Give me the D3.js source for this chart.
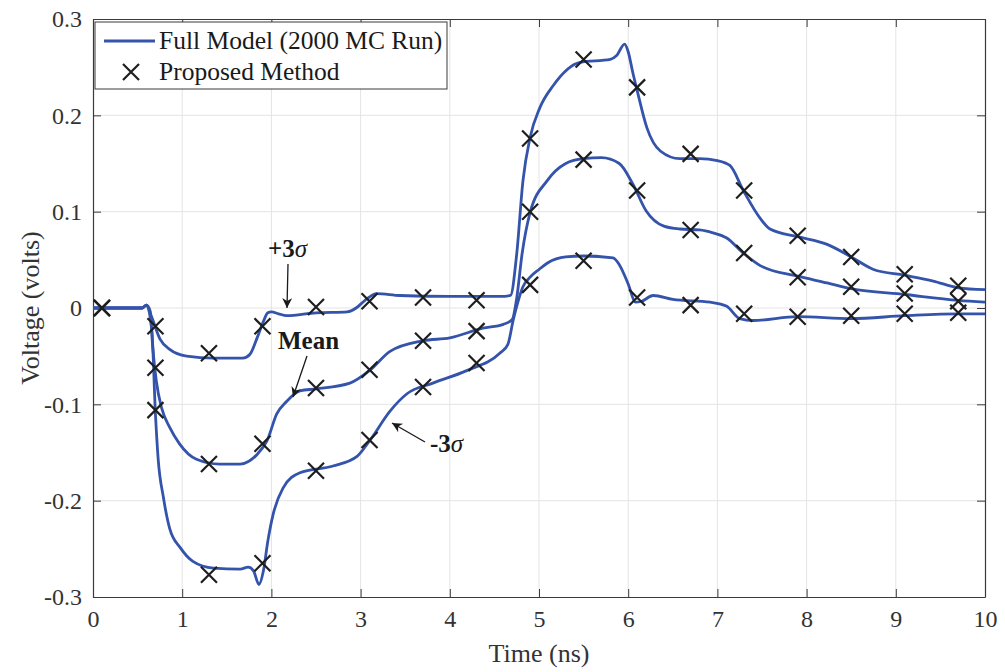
<!DOCTYPE html>
<html>
<head>
<meta charset="utf-8">
<script src="https://cdn.jsdelivr.net/npm/d3@7"></script>
<style>
  body { margin: 0; background: #fff; }
  text { font-family: "Liberation Serif", "Times New Roman", serif; }
</style>
</head>
<body>
<svg id="chart" width="1005" height="672"></svg>
<script>
// Monte Carlo comparison: voltage vs time

// curve samples (time in ns, voltage in volts)
const upperT = [0, 0.55, 0.6, 0.66, 0.75, 0.86, 1.05, 1.35, 1.68, 1.76, 1.84, 1.91, 1.96, 2.0, 2.08, 2.17, 2.5, 2.85, 2.95, 3.05, 3.18, 3.44, 4.0, 4.56, 4.68, 4.75, 4.82, 4.9, 5.01, 5.16, 5.46, 5.8, 5.87, 5.96, 6.0, 6.05, 6.1, 6.21, 6.36, 6.58, 6.8, 7.0, 7.14, 7.29, 7.48, 7.59, 7.9, 8.23, 8.5, 8.75, 9.1, 9.42, 9.7, 10];
const upperV = [0, 0, 0.003, -0.01, -0.032, -0.043, -0.05, -0.052, -0.052, -0.048, -0.031, -0.014, -0.005, -0.004, -0.006, -0.008, -0.005, -0.004, 0.0, 0.008, 0.015, 0.013, 0.012, 0.012, 0.013, 0.056, 0.132, 0.177, 0.208, 0.231, 0.255, 0.258, 0.262, 0.274, 0.266, 0.245, 0.226, 0.187, 0.163, 0.155, 0.155, 0.153, 0.148, 0.122, 0.093, 0.082, 0.074, 0.066, 0.053, 0.040, 0.034, 0.028, 0.021, 0.019];

const meanT = [0, 0.55, 0.6, 0.64, 0.67, 0.71, 0.77, 0.86, 0.97, 1.16, 1.42, 1.65, 1.84, 1.95, 2.06, 2.17, 2.32, 2.5, 2.88, 3.1, 3.33, 3.7, 4.0, 4.37, 4.6, 4.7, 4.75, 4.81, 4.9, 5.09, 5.3, 5.5, 5.7, 5.9, 6.05, 6.2, 6.4, 6.58, 6.8, 6.95, 7.1, 7.29, 7.48, 7.9, 8.23, 8.5, 9.1, 9.7, 10];
const meanV = [0, 0, 0.003, -0.003, -0.041, -0.076, -0.104, -0.124, -0.141, -0.157, -0.162, -0.162, -0.152, -0.138, -0.11, -0.097, -0.086, -0.084, -0.078, -0.065, -0.045, -0.034, -0.031, -0.021, -0.017, -0.012, 0.01, 0.056, 0.099, 0.132, 0.15, 0.155, 0.156, 0.15, 0.129, 0.101, 0.085, 0.082, 0.081, 0.078, 0.073, 0.057, 0.044, 0.033, 0.026, 0.02, 0.014, 0.008, 0.006];

const lowerT = [0, 0.55, 0.6, 0.66, 0.7, 0.73, 0.79, 0.86, 0.98, 1.12, 1.35, 1.65, 1.74, 1.8, 1.86, 1.91, 1.96, 2.02, 2.13, 2.32, 2.69, 2.96, 3.1, 3.33, 3.52, 3.81, 4.19, 4.56, 4.65, 4.71, 4.76, 4.82, 4.9, 5.0, 5.1, 5.3, 5.5, 5.83, 5.9, 6.0, 6.08, 6.15, 6.28, 6.5, 6.92, 7.1, 7.25, 7.4, 7.9, 8.5, 9.1, 9.7, 10];
const lowerV = [0, 0, 0.003, -0.024, -0.11, -0.156, -0.197, -0.229, -0.249, -0.263, -0.27, -0.271, -0.269, -0.273, -0.287, -0.273, -0.242, -0.214, -0.187, -0.171, -0.164, -0.154, -0.138, -0.107, -0.089, -0.078, -0.065, -0.047, -0.038, -0.013, 0.005, 0.022, 0.032, 0.04, 0.047, 0.053, 0.054, 0.052, 0.045, 0.025, 0.006, 0.007, 0.013, 0.009, 0.006, 0.002, -0.011, -0.013, -0.009, -0.011, -0.008, -0.006, -0.006];

// proposed method markers
const markerT = [0.1, 0.7, 1.3, 1.9, 2.5, 3.1, 3.7, 4.3, 4.9, 5.5, 6.1, 6.7, 7.3, 7.9, 8.5, 9.1, 9.7];
const markerUpper = [0, -0.019, -0.047, -0.019, 0.001, 0.007, 0.011, 0.008, 0.176, 0.258, 0.229, 0.160, 0.122, 0.075, 0.053, 0.035, 0.023];
const markerMean = [0, -0.062, -0.162, -0.141, -0.083, -0.064, -0.034, -0.024, 0.100, 0.154, 0.122, 0.081, 0.057, 0.032, 0.022, 0.015, 0.007];
const markerLower = [0, -0.106, -0.277, -0.265, -0.169, -0.137, -0.082, -0.057, 0.024, 0.049, 0.011, 0.003, -0.006, -0.009, -0.008, -0.006, -0.005];

const xTicks = [0, 1, 2, 3, 4, 5, 6, 7, 8, 9, 10];
const yTicks = [-0.3, -0.2, -0.1, 0, 0.1, 0.2, 0.3];
const legendLabels = ["Full Model (2000 MC Run)", "Proposed Method"];

const margin = { top: 19, right: 20, bottom: 75, left: 93 };
const width = 1005 - margin.left - margin.right;
const height = 672 - margin.top - margin.bottom;

const LINE_BLUE = "#3453aa";
const MARK = "#1e1e1e";
const AXIS = "#3a3a3a";

const svg = d3.select("#chart")
  .append("g")
  .attr("transform", `translate(${margin.left},${margin.top})`);

const x = d3.scaleLinear().domain([0, 10]).range([0, width]);
const y = d3.scaleLinear().domain([-0.3, 0.3]).range([height, 0]);

// grid
svg.append("g").selectAll("line").data(xTicks.slice(1, -1)).join("line")
  .attr("x1", d => x(d)).attr("x2", d => x(d))
  .attr("y1", 0).attr("y2", height)
  .attr("stroke", "#e4e4e4").attr("stroke-width", 1);
svg.append("g").selectAll("line").data(yTicks.slice(1, -1)).join("line")
  .attr("x1", 0).attr("x2", width)
  .attr("y1", d => y(d)).attr("y2", d => y(d))
  .attr("stroke", "#e4e4e4").attr("stroke-width", 1);

// axes (ticks point inward, box on)
function styleAxis(g) {
  g.attr("font-family", null).attr("font-size", null);
  g.select(".domain").attr("stroke", AXIS).attr("stroke-width", 1.2);
  g.selectAll(".tick line").attr("stroke", AXIS);
  g.selectAll(".tick text")
    .attr("fill", "#333")
    .style("font-size", "24px");
}

const fmtY = d => (d === 0 ? "0" : d.toFixed(1));

svg.append("g")
  .attr("transform", `translate(0,${height})`)
  .call(d3.axisBottom(x).tickValues(xTicks).tickFormat(d3.format("d")).tickSizeInner(-8).tickSizeOuter(0).tickPadding(13))
  .call(styleAxis);
svg.append("g")
  .call(d3.axisLeft(y).tickValues(yTicks).tickFormat(fmtY).tickSizeInner(-8).tickSizeOuter(0).tickPadding(11))
  .call(styleAxis);
svg.append("g")
  .call(d3.axisTop(x).tickValues(xTicks).tickFormat("").tickSizeInner(-8).tickSizeOuter(0))
  .call(styleAxis);
svg.append("g")
  .attr("transform", `translate(${width},0)`)
  .call(d3.axisRight(y).tickValues(yTicks).tickFormat("").tickSizeInner(-8).tickSizeOuter(0))
  .call(styleAxis);

// axis titles
svg.append("text")
  .attr("x", width / 2).attr("y", height + 65)
  .attr("text-anchor", "middle")
  .attr("fill", "#333")
  .style("font-size", "26px")
  .text("Time (ns)");
svg.append("text")
  .attr("transform", `translate(${-54},${height / 2}) rotate(-90)`)
  .attr("text-anchor", "middle")
  .attr("fill", "#333")
  .style("font-size", "26px")
  .text("Voltage (volts)");

// curves
const line = d3.line()
  .x(d => x(d[0]))
  .y(d => y(d[1]))
  .curve(d3.curveMonotoneX);

const curves = [
  d3.zip(upperT, upperV),
  d3.zip(meanT, meanV),
  d3.zip(lowerT, lowerV)
];

svg.append("g").selectAll("path").data(curves).join("path")
  .attr("d", line)
  .attr("fill", "none")
  .attr("stroke", LINE_BLUE)
  .attr("stroke-width", 2.8)
  .attr("stroke-linejoin", "round");

// X markers
const S = 8;
function crossPath(cx, cy) {
  return `M${cx - S},${cy - S}L${cx + S},${cy + S}M${cx - S},${cy + S}L${cx + S},${cy - S}`;
}
const markerData = [];
[markerUpper, markerMean, markerLower].forEach(vals => {
  vals.forEach((v, i) => markerData.push([markerT[i], v]));
});
svg.append("g").selectAll("path").data(markerData).join("path")
  .attr("d", d => crossPath(x(d[0]), y(d[1])))
  .attr("stroke", MARK)
  .attr("stroke-width", 2.2)
  .attr("fill", "none");

// annotations
const ann = svg.append("g").attr("fill", "#1a1a1a");
svg.append("defs").append("marker")
  .attr("id", "arrow")
  .attr("viewBox", "0 0 10 10")
  .attr("refX", 10).attr("refY", 5)
  .attr("markerWidth", 16).attr("markerHeight", 10)
  .attr("markerUnits", "userSpaceOnUse")
  .attr("orient", "auto")
  .append("path")
  .attr("d", "M0,0L10,5L0,10L3,5Z")
  .attr("fill", "#1a1a1a");

function annotate(label, tx, ty, x1, y1, x2, y2) {
  const t = ann.append("text")
    .attr("x", tx - margin.left).attr("y", ty - margin.top)
    .style("font-size", "25px");
  if (label[0] === "M") {
    t.append("tspan").attr("font-weight", "bold").text(label);
  } else {
    t.append("tspan").attr("font-weight", "bold").text(label.slice(0, 2));
    t.append("tspan").attr("font-style", "italic").text("\u03C3");
  }
  ann.append("line")
    .attr("x1", x1 - margin.left).attr("y1", y1 - margin.top)
    .attr("x2", x2 - margin.left).attr("y2", y2 - margin.top)
    .attr("stroke", "#1a1a1a").attr("stroke-width", 1.3)
    .attr("marker-end", "url(#arrow)");
}
annotate("+3s", 268, 257, 288, 264, 287, 308);
annotate("Mean", 278, 349, 307, 356, 293, 397);
annotate("-3s", 430, 452, 425, 442, 392, 423);

// legend
const lg = svg.append("g").attr("transform", `translate(${95 - margin.left},${22 - margin.top})`);
lg.append("rect")
  .attr("width", 352).attr("height", 67)
  .attr("fill", "#fff").attr("stroke", AXIS).attr("stroke-width", 1);
lg.append("line")
  .attr("x1", 9).attr("x2", 60).attr("y1", 19).attr("y2", 19)
  .attr("stroke", LINE_BLUE).attr("stroke-width", 2.8);
lg.append("path")
  .attr("d", crossPath(36, 50))
  .attr("stroke", MARK).attr("stroke-width", 2.2).attr("fill", "none");
lg.selectAll("text").data(legendLabels).join("text")
  .attr("x", 64)
  .attr("y", (d, i) => 27 + i * 31)
  .attr("fill", "#1a1a1a")
  .style("font-size", "25.5px")
  .text(d => d);
</script>
</body>
</html>
